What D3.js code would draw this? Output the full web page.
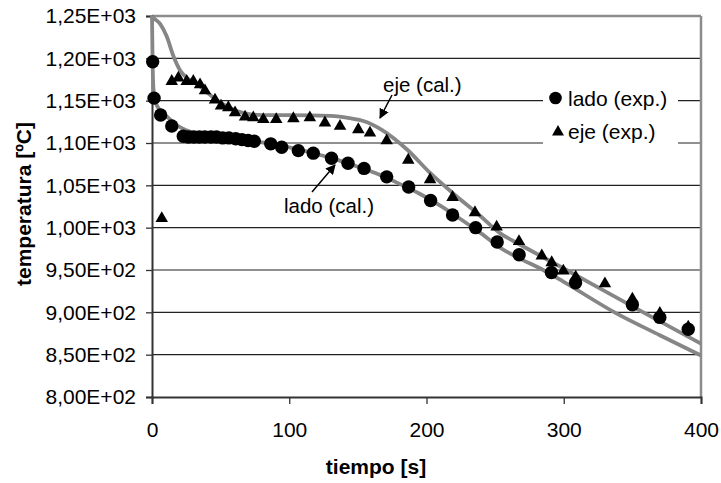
<!DOCTYPE html>
<html><head><meta charset="utf-8">
<script src="https://cdn.jsdelivr.net/npm/d3@7"></script>
<style>
body{margin:0;background:#fff}
svg{display:block}
text{font-family:"Liberation Sans",Arial,sans-serif;fill:#000}
</style>
</head><body>
<svg id="c" width="721" height="483"></svg>
<script>
// ---- data ----
const xTicks = [0, 100, 200, 300, 400];
const xTickLabels = ["0", "100", "200", "300", "400"];
const yTicks = [800, 850, 900, 950, 1000, 1050, 1100, 1150, 1200, 1250];
const yTickLabels = ["8,00E+02", "8,50E+02", "9,00E+02", "9,50E+02", "1,00E+03",
                     "1,05E+03", "1,10E+03", "1,15E+03", "1,20E+03", "1,25E+03"];

const ladoExpTime = [0.5, 1.5, 6.3, 14.4, 22.8, 26.5, 30.5, 34.5, 38.5, 43, 47, 51.5, 56, 61, 65.5, 70, 74.5,
  86.5, 94.5, 106.6, 117.5, 130.8, 142.8, 154.5, 171, 187, 203, 219, 235.8, 251.5, 267.5, 291, 308.6, 350, 370, 390.7];
const ladoExpTemp = [1196, 1153, 1133, 1120, 1108, 1107, 1107, 1107, 1107, 1107, 1107, 1106, 1106, 1105, 1104, 1103, 1102,
  1099, 1095, 1091, 1088, 1082, 1076, 1070, 1060, 1048, 1032, 1015, 1000, 983, 968, 947, 935, 909, 894, 880];

const ejeExpTime = [7.1, 14.4, 19.2, 25.3, 30.1, 35, 38.6, 45.9, 50.3, 55.6, 60.5, 67.8, 73.8, 81.1, 90.5,
  103, 115, 126, 137, 150.3, 158.8, 171, 186.7, 202.6, 219, 235.3, 251.1, 267.4, 284, 291.2, 299.7, 308.7, 330, 350, 370, 390.7];
const ejeExpTemp = [1012, 1174, 1178, 1174, 1174, 1170, 1163, 1152, 1145, 1143, 1137, 1132, 1131, 1129, 1129,
  1130, 1131, 1125, 1121, 1117, 1113, 1104, 1081, 1058, 1037, 1019, 1002, 985, 968, 960, 950, 943, 935, 917, 900, 884];

const ladoCalTime = [0, 0.4, 1, 2, 4, 7, 11, 15, 20, 25, 30, 40, 50, 60, 75, 90, 105, 120, 135, 150, 165, 180,
  195, 210, 225, 240, 255, 270, 285, 300, 337, 370, 400];
const ladoCalTemp = [1250, 1200, 1165, 1152, 1143, 1137, 1131, 1125, 1119, 1115, 1112, 1109, 1107, 1105, 1102, 1098,
  1093, 1087, 1080, 1072, 1063, 1052, 1040, 1026, 1010, 993, 975, 962, 950, 936, 900, 873, 849];

const ejeCalTime = [0, 1, 5.8, 10.7, 15.5, 20.4, 25.3, 32.6, 40, 46, 55, 68, 80, 100, 130, 145, 154, 168, 186,
  203, 219, 237, 254, 267, 302, 358, 400];
const ejeCalTemp = [1250, 1248, 1241, 1226, 1203, 1186, 1177, 1170, 1160, 1152, 1143, 1135, 1133, 1133, 1132, 1129,
  1126, 1115, 1092, 1064, 1041, 1017, 993, 981, 950, 900, 863];

const annotations = [
  {text: "eje (cal.)", x: 383, y: 91.5, ax1: 392, ay1: 95, ax2: 380, ay2: 118},
  {text: "lado (cal.)", x: 284, y: 213, ax1: 312, ay1: 192, ax2: 335, ay2: 165}
];
const legendItems = [
  {label: "lado (exp.)", shape: "circle"},
  {label: "eje (exp.)", shape: "triangle"}
];

// ---- chart ----
const svg = d3.select("#c");
svg.append("rect").attr("width", 721).attr("height", 483).attr("fill", "#fff");

const x = d3.scaleLinear().domain([0, 400]).range([152, 701]);
const y = d3.scaleLinear().domain([800, 1250]).range([397, 16]);

// gridlines
svg.append("g").selectAll("line").data(yTicks.filter(d => d > 800 && d < 1250)).join("line")
  .attr("x1", x(0)).attr("x2", x(400)).attr("y1", d => y(d)).attr("y2", d => y(d))
  .attr("stroke", "#222").attr("stroke-width", 1.1);

// frame top/right grey
svg.append("line").attr("x1", x(0)).attr("x2", x(400)).attr("y1", y(1250)).attr("y2", y(1250))
  .attr("stroke", "#8c8c8c").attr("stroke-width", 2.5);
svg.append("line").attr("x1", x(400)).attr("x2", x(400)).attr("y1", y(1250)).attr("y2", y(800))
  .attr("stroke", "#8c8c8c").attr("stroke-width", 2.5);

// legend background
const lg = svg.append("g");
lg.append("rect").attr("x", 543).attr("y", 86).attr("width", 135).attr("height", 64).attr("fill", "#fff");

// axes
const yAxis = d3.axisLeft(y).tickValues(yTicks).tickFormat((d, i) => yTickLabels[i]).tickSize(6).tickPadding(10);
const gy = svg.append("g").attr("transform", `translate(${x(0)},0)`).call(yAxis);
const xAxis = d3.axisBottom(x).tickValues(xTicks).tickFormat((d, i) => xTickLabels[i]).tickSize(7).tickPadding(18);
const gx = svg.append("g").attr("transform", `translate(0,${y(800)})`).call(xAxis);
[gx, gy].forEach(g => {
  g.select(".domain").attr("stroke", "#333").attr("stroke-width", 2);
  g.selectAll(".tick line").attr("stroke", "#333").attr("stroke-width", 1.3);
  g.selectAll(".tick text").attr("font-size", 21).attr("fill", "#111")
    .style("font-family", '"Liberation Sans",Arial,sans-serif');
});

// axis titles
svg.append("text").attr("x", 376).attr("y", 474).attr("text-anchor", "middle")
  .attr("font-size", 21).attr("font-weight", "bold").text("tiempo [s]");
svg.append("text").attr("transform", "translate(31,204) rotate(-90)").attr("text-anchor", "middle")
  .attr("font-size", 21).attr("font-weight", "bold").text("temperatura [ºC]");

// calculated curves
const line = d3.line().x(d => x(d[0])).y(d => y(d[1])).curve(d3.curveMonotoneX);
svg.append("path").datum(ladoCalTime.map((t, i) => [t, ladoCalTemp[i]])).attr("d", line)
  .attr("fill", "none").attr("stroke", "#868686").attr("stroke-width", 3.8);
svg.append("path").datum(ejeCalTime.map((t, i) => [t, ejeCalTemp[i]])).attr("d", line)
  .attr("fill", "none").attr("stroke", "#868686").attr("stroke-width", 3.8);

// markers
const tri = d3.symbol().type(d3.symbolTriangle).size(68);
svg.append("g").selectAll("path").data(ejeExpTime.map((t, i) => [t, ejeExpTemp[i]])).join("path")
  .attr("d", tri).attr("transform", d => `translate(${x(d[0])},${y(d[1]) + 1})`).attr("fill", "#000");
svg.append("g").selectAll("circle").data(ladoExpTime.map((t, i) => [t, ladoExpTemp[i]])).join("circle")
  .attr("cx", d => x(d[0])).attr("cy", d => y(d[1])).attr("r", 6.7).attr("fill", "#000");

// annotations
svg.append("defs").append("marker").attr("id", "ah").attr("viewBox", "0 0 10 10").attr("refX", 9).attr("refY", 5)
  .attr("markerWidth", 10).attr("markerHeight", 10).attr("markerUnits", "userSpaceOnUse").attr("orient", "auto")
  .append("path").attr("d", "M0,0L10,5L0,10z").attr("fill", "#000");
annotations.forEach(a => {
  svg.append("text").attr("x", a.x).attr("y", a.y).attr("font-size", 20.5).text(a.text);
  svg.append("line").attr("x1", a.ax1).attr("y1", a.ay1).attr("x2", a.ax2).attr("y2", a.ay2)
    .attr("stroke", "#000").attr("stroke-width", 1.5).attr("marker-end", "url(#ah)");
});

// legend
legendItems.forEach((it, i) => {
  const cy = 98 + i * 33;
  if (it.shape === "circle") lg.append("circle").attr("cx", 555.5).attr("cy", cy).attr("r", 6.3).attr("fill", "#000");
  else lg.append("path").attr("d", d3.symbol().type(d3.symbolTriangle).size(62)).attr("transform", `translate(558,${cy + 1})`).attr("fill", "#000");
  lg.append("text").attr("x", 568).attr("y", cy + 7.5).attr("font-size", 21).text(it.label);
});
</script>
</body></html>
